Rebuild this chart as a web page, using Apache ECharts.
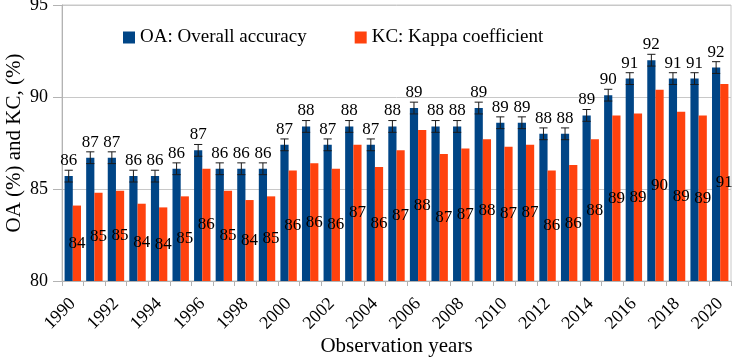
<!DOCTYPE html>
<html>
<head>
<meta charset="utf-8">
<script src="https://cdn.jsdelivr.net/npm/echarts@6/dist/echarts.min.js"></script>
<style>html,body{margin:0;padding:0;background:#fff}#c{width:732px;height:361px}</style>
</head>
<body>
<div id="c"></div>
<script>
const years = ['1990','1991','1992','1993','1994','1995','1996','1997','1998','1999','2000','2001','2002','2003','2004','2005','2006','2007','2008','2009','2010','2011','2012','2013','2014','2015','2016','2017','2018','2019','2020'];
const oa = [85.7,86.7,86.7,85.7,85.7,86.1,87.1,86.1,86.1,86.1,87.4,88.4,87.4,88.4,87.4,88.4,89.4,88.4,88.4,89.4,88.6,88.6,88.0,88.0,89.0,90.1,91.0,92.0,91.0,91.0,91.6];
const kc = [84.1,84.8,84.9,84.2,84.0,84.6,86.1,84.9,84.4,84.6,86.0,86.4,86.1,87.4,86.2,87.1,88.2,86.9,87.2,87.7,87.3,87.4,86.0,86.3,87.7,89.0,89.1,90.4,89.2,89.0,90.7];
const oaErr = [0.32,0.32,0.32,0.32,0.32,0.32,0.32,0.32,0.32,0.32,0.32,0.32,0.32,0.32,0.32,0.32,0.32,0.32,0.32,0.32,0.32,0.32,0.32,0.32,0.32,0.32,0.32,0.32,0.32,0.32,0.32];
const yTicks = [80,85,90,95];

const FONT = 'Liberation Serif';
const chart = echarts.init(document.getElementById('c'));
const CAT_GAP = 0.24;
chart.setOption({
  animation: false,
  textStyle: {fontFamily: FONT},
  legend: {
    left: 118, top: 23, itemWidth: 12, itemHeight: 12, itemGap: 48,
    icon: 'rect',
    textStyle: {fontFamily: FONT, fontSize: 19, color: '#000'},
    data: ['OA: Overall accuracy','KC: Kappa coefficient']
  },
  grid: {left: 62, right: 1, top: 5, bottom: 80, show: true, borderColor: '#c8c8c8', borderWidth: 1,
    containLabel: false, outerBoundsMode: 'none'},
  xAxis: {
    type: 'category', data: years,
    name: 'Observation years', nameLocation: 'middle', nameGap: 55, nameMoveOverlap: false,
    nameTextStyle: {fontFamily: FONT, fontSize: 21, color: '#000'},
    axisLine: {lineStyle: {color: '#b3b3b3'}},
    axisTick: {show: true, interval: 0, length: 5, lineStyle: {color: '#b3b3b3'}},
    axisLabel: {interval: 1, rotate: 45, margin: 20, fontFamily: FONT, fontSize: 18, color: '#000'}
  },
  yAxis: {
    type: 'value', min: yTicks[0], max: yTicks[yTicks.length-1], interval: 5,
    name: 'OA (%) and KC, (%)', nameLocation: 'middle', nameGap: 37, nameMoveOverlap: false,
    nameTextStyle: {fontFamily: FONT, fontSize: 21, color: '#000'},
    axisLine: {show: true, lineStyle: {color: '#b3b3b3'}},
    axisTick: {show: true, inside: false, length: 9, lineStyle: {color: '#b3b3b3'}},
    axisLabel: {margin: 14, fontFamily: FONT, fontSize: 18, color: '#000'},
    splitLine: {lineStyle: {color: '#c8c8c8'}}
  },
  series: [
    {
      name: 'OA: Overall accuracy', type: 'bar', data: oa,
      barGap: '0%', barCategoryGap: (CAT_GAP*100)+'%',
      itemStyle: {color: '#004586'},
      label: {show: true, position: 'top', distance: 7, fontFamily: FONT, fontSize: 17, color: '#000',
        formatter: p => Math.round(p.value)}
    },
    {
      name: 'KC: Kappa coefficient', type: 'bar', data: kc,
      barGap: '0%', barCategoryGap: (CAT_GAP*100)+'%',
      itemStyle: {color: '#ff420e'},
      label: {show: true, position: 'inside', fontFamily: FONT, fontSize: 17, color: '#000',
        formatter: p => Math.round(p.value)}
    },
    {
      type: 'custom', z: 10, silent: true,
      data: oa.map((v, i) => [i, v, oaErr[i]]),
      encode: {x: 0, y: 1},
      renderItem: function (params, api) {
        const i = api.value(0), v = api.value(1), e = api.value(2);
        const w = api.size([1, 0])[0];
        const bw = w * (1 - CAT_GAP) / 2;
        const hi = api.coord([i, v + e]);
        const lo = api.coord([i, v - e]);
        const x = hi[0] - bw / 2;
        const half = bw / 2;
        const st = {stroke: '#1a1a1a', lineWidth: 1};
        return {type: 'group', children: [
          {type: 'line', shape: {x1: x, y1: hi[1], x2: x, y2: lo[1]}, style: st},
          {type: 'line', shape: {x1: x - half, y1: hi[1], x2: x + half, y2: hi[1]}, style: st},
          {type: 'line', shape: {x1: x - half, y1: lo[1], x2: x + half, y2: lo[1]}, style: st}
        ]};
      }
    }
  ]
});
</script>
</body>
</html>
